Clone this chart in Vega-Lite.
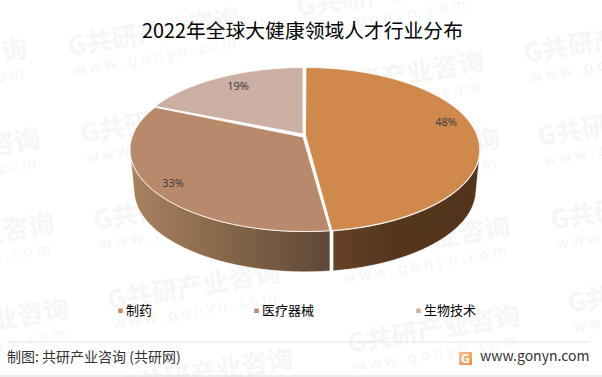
{
"$schema":"https://vega.github.io/schema/vega-lite/v6.json",
"width":602,"height":377,"padding":0,
"autosize":{"type":"none"},
"background":"#ffffff",
"config":{"view":{"stroke":null}},
"datasets":{
"share":[{"行业":"制药","扇区":"A","占比":0.48},{"行业":"医疗器械","扇区":"B","占比":0.33},{"行业":"生物技术","扇区":"C","占比":0.19}],
"marks":[{"序号":1},{"序号":2},{"序号":3},{"序号":4},{"序号":5},{"序号":6},{"序号":7},{"序号":8},{"序号":9},{"序号":10},{"序号":11},{"序号":12},{"序号":13},{"序号":14},{"序号":15},{"序号":16},{"序号":17},{"序号":18},{"序号":19}],
"notes":[{"序号":1,"文字":"制图: 共研产业咨询 (共研网)"},{"序号":2,"文字":"www.gonyn.com"}]
},
"resolve":{"scale":{"x":"independent","y":"independent"}},
"layer":[
{"data":{"name":"marks"},
 "mark":{"type":"text","font":"Noto Sans CJK SC","fontWeight":"bold","fontSize":26,"angle":-9.5,"align":"left","baseline":"middle","color":"#f6f6f6","dy":5},
 "encoding":{"text":{"value":"G共研产业咨询"},
  "x":{"field":"序号","type":"quantitative","axis":null,"scale":{"nice":false,"zero":false,"domain":[1,2,3,4,5,6,7,8,9,10,11,12,13,14,15,16,17,18,19],"range":[-146,-133,-119,-104,67,80,93,107,120,296,311,327,337,347,523,537,550,567,-158]}},
  "y":{"field":"序号","type":"quantitative","axis":null,"scale":{"nice":false,"zero":false,"domain":[1,2,3,4,5,6,7,8,9,10,11,12,13,14,15,16,17,18,19],"range":[73,163,248,333,43,130,217,297,383,4,86,163,251,340,50,133,217,300,-10]}}}},
{"data":{"name":"marks"},
 "mark":{"type":"text","font":"Noto Sans","fontSize":15,"angle":-9.5,"align":"left","baseline":"middle","color":"#f5f5f5","dx":2,"dy":28},
 "encoding":{"text":{"value":"w w w . g o n y n . c o m"},
  "x":{"field":"序号","type":"quantitative","axis":null,"scale":{"nice":false,"zero":false,"domain":[1,2,3,4,5,6,7,8,9,10,11,12,13,14,15,16,17,18,19],"range":[-146,-133,-119,-104,67,80,93,107,120,296,311,327,337,347,523,537,550,567,-158]}},
  "y":{"field":"序号","type":"quantitative","axis":null,"scale":{"nice":false,"zero":false,"domain":[1,2,3,4,5,6,7,8,9,10,11,12,13,14,15,16,17,18,19],"range":[73,163,248,333,43,130,217,297,383,4,86,163,251,340,50,133,217,300,-10]}}}},
{"data":{"values":[{"标题":"2022年全球大健康领域人才行业分布"}]},
 "mark":{"type":"text","font":"Noto Sans CJK SC","fontSize":19.8,"color":"#000000","align":"center","baseline":"middle"},
 "encoding":{"text":{"field":"标题"},"x":{"datum":302.5,"type":"quantitative","axis":null,"scale":{"domain":[0,602],"range":[0,602],"nice":false}},
  "y":{"datum":32,"type":"quantitative","axis":null,"scale":{"domain":[0,377],"range":[0,377],"nice":false}}}},
{"data":{"name":"share"},"transform":[{"filter":"datum['行业']==='医疗器械'"}],
 "mark":{"type":"point","filled":true,"opacity":1,"size":4,"stroke":"#ffffff","strokeWidth":0.7,
  "shape":"M-170.6 -33.5 A175 82 0 0 0 29 42.2 L29 82.5 A171 82 0 0 1 -166.8 5.5 Z",
  "fill":{"gradient":"linear","x1":0,"y1":0,"x2":1,"y2":0,"stops":[{"offset":0,"color":"#a9825f"},{"offset":0.5,"color":"#856549"},{"offset":1,"color":"#5f4839"}]}}},
{"data":{"name":"share"},"transform":[{"filter":"datum['行业']==='制药'"}],
 "mark":{"type":"point","filled":true,"opacity":1,"size":4,"stroke":"#ffffff","strokeWidth":0.7,
  "shape":"M32 42.4 A175 82 0 0 0 178.6 -33.5 L174.8 5.5 A171 82 0 0 1 32 82.4 Z",
  "fill":{"gradient":"linear","x1":0,"y1":0,"x2":1,"y2":0,"stops":[{"offset":0,"color":"#664227"},{"offset":0.4,"color":"#55361d"},{"offset":1,"color":"#52341c"}]}}},
{"data":{"name":"share"},
 "mark":{"type":"point","filled":true,"opacity":1,"size":4,"stroke":"#ffffff","strokeWidth":0.8},
 "encoding":{
  "color":{"field":"行业","type":"nominal","scale":{"domain":["制药","医疗器械","生物技术"],"range":["#cf894b","#b9896b","#ccafa3"]},
   "legend":{"title":null,"orient":"none","legendX":114,"legendY":304,"columns":3,"columnPadding":97,"symbolType":"square","symbolSize":20,"symbolStrokeWidth":0,"symbolOpacity":1,"labelFont":"Noto Sans CJK SC","labelFontSize":13,"labelColor":"#000000","labelOffset":-1}},
  "shape":{"field":"扇区","type":"nominal","legend":null,"scale":{"domain":["A","B","C"],"range":[
   "M4.5 -53.5 L5 -121 A175 82 0 0 1 31 42 Z",
   "M2 -51.5 L-146 -81.2 A175 82 0 0 0 29 42.2 Z",
   "M2 -54.5 L2 -121 A175 82 0 0 0 -146 -82.2 Z"]}}}},
{"data":{"name":"share"},
 "mark":{"type":"text","font":"Noto Sans","fontSize":11,"color":"#404040"},
 "encoding":{"text":{"field":"占比","type":"quantitative","format":".0%"},
  "x":{"field":"占比","type":"quantitative","axis":null,"scale":{"nice":false,"zero":false,"domain":[0.19,0.33,0.48],"range":[238,173,446]}},
  "y":{"field":"占比","type":"quantitative","axis":null,"scale":{"nice":false,"zero":false,"domain":[0.19,0.33,0.48],"range":[87,184,123]}}}},
{"data":{"values":[{"线":"页脚"}]},"mark":{"type":"rule","color":"#e6e6e6","strokeWidth":1},
 "encoding":{"x":{"datum":8,"type":"quantitative","axis":null,"scale":{"domain":[0,602],"range":[0,602],"nice":false}},"x2":{"datum":590},
  "y":{"datum":342,"type":"quantitative","axis":null,"scale":{"domain":[0,377],"range":[0,377],"nice":false}}}},
{"data":{"values":[{"线":"底边"}]},"mark":{"type":"rule","color":"#d9d9d9","strokeWidth":1},
 "encoding":{"x":{"datum":0,"type":"quantitative","axis":null,"scale":{"domain":[0,602],"range":[0,602],"nice":false}},"x2":{"datum":602},
  "y":{"datum":376,"type":"quantitative","axis":null,"scale":{"domain":[0,377],"range":[0,377],"nice":false}}}},
{"data":{"name":"notes"},
 "mark":{"type":"text","font":"Noto Sans CJK SC","fontSize":14,"align":"left","baseline":"middle","color":"#333333"},
 "encoding":{"text":{"field":"文字"},
  "x":{"field":"序号","type":"quantitative","axis":null,"scale":{"nice":false,"zero":false,"domain":[1,2],"range":[7,480]}},
  "y":{"field":"序号","type":"quantitative","axis":null,"scale":{"nice":false,"zero":false,"domain":[1,2],"range":[358,357]}}}},
{"data":{"values":[{"标识":"G"}]},
 "mark":{"type":"point","shape":"square","filled":true,"opacity":1,"size":170,
  "fill":{"gradient":"linear","x1":0,"y1":0,"x2":1,"y2":1,"stops":[{"offset":0,"color":"#f9c08f"},{"offset":1,"color":"#f28a45"}]}},
 "encoding":{"x":{"datum":465.5,"type":"quantitative","axis":null,"scale":{"domain":[0,602],"range":[0,602],"nice":false}},
  "y":{"datum":358.5,"type":"quantitative","axis":null,"scale":{"domain":[0,377],"range":[0,377],"nice":false}}}},
{"data":{"values":[{"标识":"G"}]},
 "mark":{"type":"text","font":"Noto Sans","fontWeight":"bold","fontSize":13,"color":"#ffffff"},
 "encoding":{"text":{"field":"标识"},"x":{"datum":465.5,"type":"quantitative","axis":null,"scale":{"domain":[0,602],"range":[0,602],"nice":false}},
  "y":{"datum":358.5,"type":"quantitative","axis":null,"scale":{"domain":[0,377],"range":[0,377],"nice":false}}}}
]
}
